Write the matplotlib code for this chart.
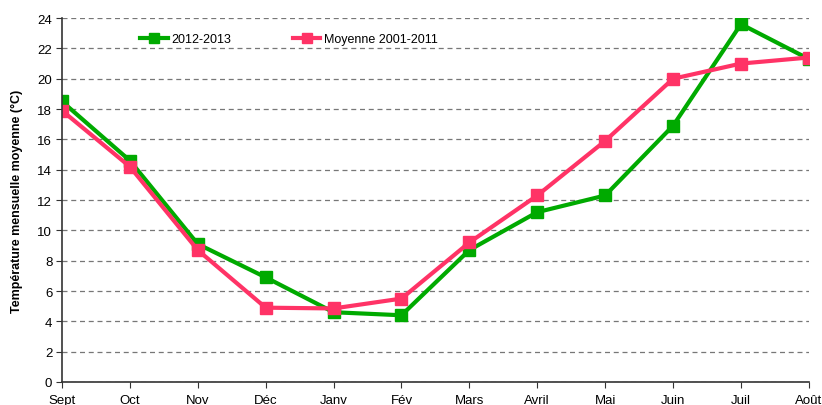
import matplotlib
matplotlib.use('Agg')
import matplotlib.pyplot as plt

plt.rcParams['font.family'] = ['Liberation Sans', 'DejaVu Sans']

mois = ['Sept', 'Oct', 'Nov', 'Déc', 'Janv', 'Fév', 'Mars', 'Avril', 'Mai', 'Juin', 'Juil', 'Août']
t_2012_2013 = [18.5, 14.6, 9.1, 6.9, 4.6, 4.4, 8.7, 11.2, 12.3, 16.9, 23.6, 21.3]
t_moyenne = [17.9, 14.2, 8.7, 4.9, 4.85, 5.5, 9.2, 12.3, 15.9, 20.0, 21.0, 21.4]

fig = plt.figure(figsize=(8.22, 4.06), dpi=100)
ax = fig.add_axes([0.0754, 0.0567, 0.9086, 0.8963])

x = range(len(mois))
ax.plot(x, t_2012_2013, color='#00aa00', lw=3, marker='s', ms=9, label='2012-2013', zorder=3)
ax.plot(x, t_moyenne, color='#ff3366', lw=3, marker='s', ms=9, label='Moyenne 2001-2011', zorder=4)

ax.set_xlim(0, len(mois) - 1)
ax.set_ylim(0, 24)
ax.set_yticks(range(0, 25, 2))
ax.set_xticks(list(x))
ax.set_xticklabels(mois)
ax.tick_params(labelsize=9.5, length=4, color='#333333')
ax.tick_params(axis='x', pad=5)
ax.tick_params(axis='y', pad=3)
ax.yaxis.grid(True, linestyle=(0, (4, 3)), color='#777777', lw=0.9)
ax.set_axisbelow(True)
for s in ['top', 'right']:
    ax.spines[s].set_visible(False)
for s in ['left', 'bottom']:
    ax.spines[s].set_color('#333333')
    ax.spines[s].set_linewidth(1.2)
ax.spines['left'].set_zorder(5)
ax.spines['bottom'].set_zorder(5)

ax.set_ylabel('Température mensuelle moyenne (°C)', fontsize=9, fontweight='bold', labelpad=10)

ax.legend(loc='upper left', bbox_to_anchor=(0.09, 0.99), ncol=2, frameon=False,
          fontsize=9, columnspacing=4.9, handlelength=2.2, handletextpad=0.3, markerscale=0.8)

fig.savefig('out.png', dpi=100)
